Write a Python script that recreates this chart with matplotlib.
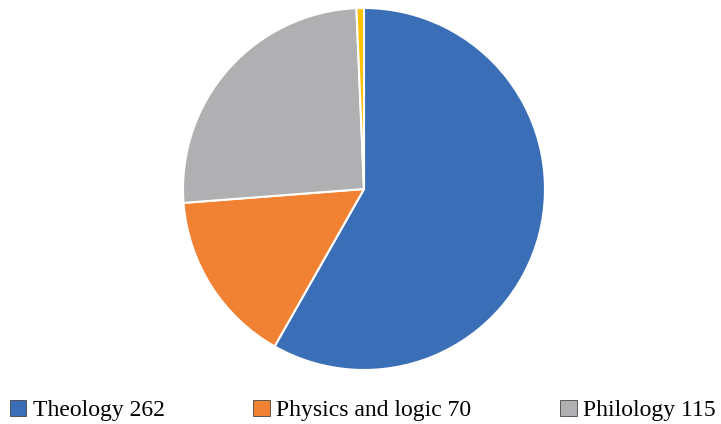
import matplotlib.pyplot as plt
from matplotlib.patches import Patch

labels = ["Theology 262", "Physics and logic 70", "Philology 115", "Other 3"]
values = [262, 70, 115, 3]
colors = ["#3A6FB8", "#F18233", "#B0B0B2", "#FFC000"]

plt.rcParams['font.family'] = ['Liberation Serif', 'DejaVu Serif']

W, H = 721, 424
fig = plt.figure(figsize=(W / 100, H / 100), dpi=100)
# pie centre (364, 189), radius 181 px
ax = fig.add_axes([183 / W, (H - 370) / H, 362 / W, 362 / H])
ax.pie(values, colors=colors, startangle=90, counterclock=False,
       wedgeprops=dict(edgecolor="white", linewidth=1.5))
ax.set_xlim(-1, 1)
ax.set_ylim(-1, 1)
ax.set_aspect("equal")

handles = [Patch(facecolor=c, edgecolor="#444444", linewidth=0.6) for c in colors[:3]]
fig.legend(handles, labels[:3], loc="lower left", bbox_to_anchor=(0.007, -0.005),
           ncol=3, frameon=False, fontsize=17, handlelength=0.7, handleheight=0.7,
           handletextpad=0.28, columnspacing=3.75, borderpad=0.2, borderaxespad=0.0)

fig.savefig("out.png", dpi=100)
